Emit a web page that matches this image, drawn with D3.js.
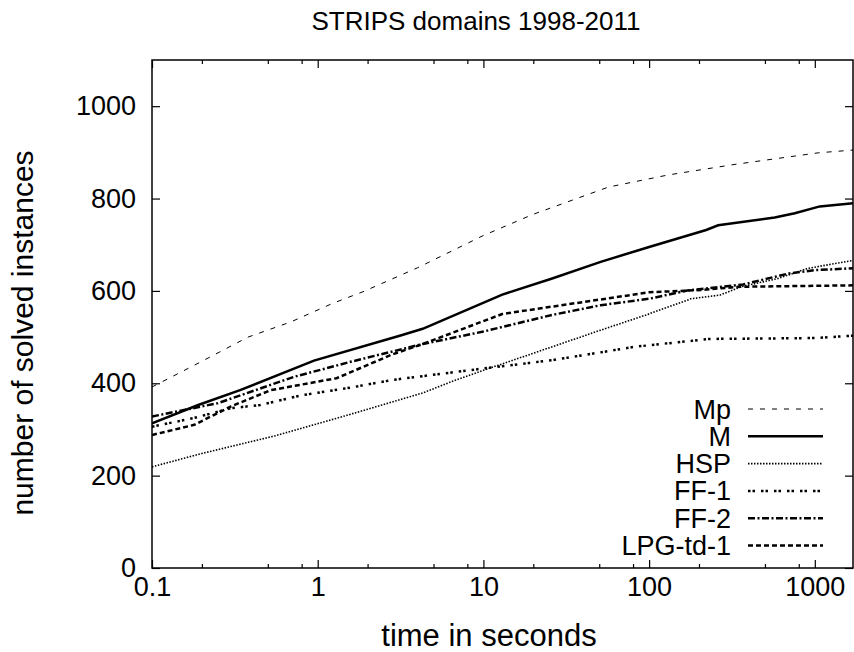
<!DOCTYPE html>
<html><head><meta charset="utf-8">
<script src="https://cdn.jsdelivr.net/npm/d3@7"></script>
<style>body{margin:0;background:#fff}text{font-family:"Liberation Sans",Arial,sans-serif;fill:#000}</style>
</head><body><svg id="c" width="854" height="652"></svg>
<script>
const seriesNames = ["Mp","M","HSP","FF-1","FF-2","LPG-td-1"];
const xTickValues = [0.1,1,10,100,1000];
const xTickLabels = ["0.1","1","10","100","1000"];
const yTickValues = [0,200,400,600,800,1000];

const mpTimes  = [0.1,0.18,0.38,0.69,1.23,1.87,4,10,20,57,130,330,690,1050,1700];
const mpValues = [392,439,500,533,573,598,650,720,766,825,851,874,890,899,905];

const mTimes  = [0.1,0.19,0.34,0.95,3.2,4.3,13,26,51,100,221,261,573,757,1072,1700];
const mValues = [313,353,385,449,504,518,592,627,663,695,732,742,759,768,783,790];

const hspTimes  = [0.1,0.2,0.55,1.45,4.3,6.8,10,26,51,96,179,268,360,600,912,1700];
const hspValues = [219,248,286,329,379,407,428,479,515,548,583,591,609,627,649,666];

const ff1Times  = [0.1,0.18,0.3,0.45,0.8,1.6,2.8,10,26,82,230,520,1000,1700];
const ff1Values = [306,325,346,353,374,391,407,432,450,479,496,497,498,503];

const ff2Times  = [0.1,0.25,0.72,1.6,4.3,10,26,51,100,170,370,700,1000,1700];
const ff2Values = [328,357,414,447,485,512,548,569,583,601,614,638,645,649];

const lpgTimes  = [0.1,0.18,0.3,0.52,1.3,2.8,4.3,13,26,100,207,350,1700];
const lpgValues = [288,310,350,385,411,462,485,550,566,597,602,609,612];

const allTimes = [mpTimes,mTimes,hspTimes,ff1Times,ff2Times,lpgTimes];
const allValues = [mpValues,mValues,hspValues,ff1Values,ff2Values,lpgValues];
const styles = [
  {w:1, dash:"5,7"},
  {w:2.5, dash:null},
  {w:1.6, dash:"1.5,1.5"},
  {w:2.5, dash:"2.5,2,2.5,6"},
  {w:2.5, dash:"7,2.5,2,2.5"},
  {w:2.5, dash:"5,3"}
];

const svg = d3.select("#c");
const L=152, R=853, T=60, B=568;
const x = d3.scaleLog().domain([0.1,1700]).range([L,R]);
const y = d3.scaleLinear().domain([0,1100]).range([B,T]);

const minor = [];
[0.1,1,10,100,1000].forEach(d=>[2,5,8].forEach(m=>{const v=d*m; if(v<=1700) minor.push(v);}));

const g = svg.append("g");
g.append("g").attr("transform",`translate(0,${B})`)
  .call(d3.axisBottom(x).tickValues(xTickValues).tickFormat((d,i)=>xTickLabels[i]).tickSizeInner(-8).tickSizeOuter(0).tickPadding(9))
  .call(a=>{a.select(".domain").remove(); a.selectAll("text").attr("font-size",27).attr("font-family","Liberation Sans");});
g.append("g").attr("transform",`translate(0,${B})`)
  .call(d3.axisBottom(x).tickValues(minor).tickFormat("").tickSizeInner(-4).tickSizeOuter(0))
  .call(a=>a.select(".domain").remove());
g.append("g").attr("transform",`translate(0,${T})`)
  .call(d3.axisTop(x).tickValues(xTickValues).tickFormat("").tickSizeInner(-8).tickSizeOuter(0))
  .call(a=>a.select(".domain").remove());
g.append("g").attr("transform",`translate(0,${T})`)
  .call(d3.axisTop(x).tickValues(minor).tickFormat("").tickSizeInner(-4).tickSizeOuter(0))
  .call(a=>a.select(".domain").remove());
g.append("g").attr("transform",`translate(${L},0)`)
  .call(d3.axisLeft(y).tickValues(yTickValues).tickFormat(d3.format("d")).tickSizeInner(-8).tickSizeOuter(0).tickPadding(16))
  .call(a=>{a.select(".domain").remove(); a.selectAll("text").attr("font-size",27).attr("font-family","Liberation Sans");});
g.append("g").attr("transform",`translate(${R},0)`)
  .call(d3.axisRight(y).tickValues(yTickValues).tickFormat("").tickSizeInner(-8).tickSizeOuter(0))
  .call(a=>a.select(".domain").remove());
g.selectAll(".tick line").attr("stroke","#000").attr("stroke-width",1.2);

svg.append("rect").attr("x",L).attr("y",T).attr("width",R-L).attr("height",B-T)
  .attr("fill","none").attr("stroke","#000").attr("stroke-width",1.5);

const line = d3.line().x(d=>x(d[0])).y(d=>y(d[1]));
svg.append("clipPath").attr("id","cp").append("rect").attr("x",L).attr("y",T).attr("width",R-L).attr("height",B-T);
seriesNames.forEach((n,i)=>{
  const pts = allTimes[i].map((t,j)=>[t,allValues[i][j]]);
  svg.append("path").datum(pts).attr("d",line).attr("fill","none").attr("stroke","#000")
    .attr("stroke-width",styles[i].w).attr("stroke-dasharray",styles[i].dash).attr("clip-path","url(#cp)");
});

seriesNames.forEach((n,i)=>{
  const ly = 409 + i*27.3;
  svg.append("text").attr("x",731).attr("y",ly+9.5).attr("text-anchor","end").attr("font-size",27).text(n);
  svg.append("line").attr("x1",748).attr("x2",823).attr("y1",ly).attr("y2",ly).attr("stroke","#000")
    .attr("stroke-width",styles[i].w).attr("stroke-dasharray",styles[i].dash);
});

svg.append("text").attr("x",476).attr("y",30).attr("text-anchor","middle").attr("font-size",26).text("STRIPS domains 1998-2011");
svg.append("text").attr("x",489).attr("y",646).attr("text-anchor","middle").attr("font-size",31).text("time in seconds");
svg.append("text").attr("transform","translate(33,333) rotate(-90)").attr("text-anchor","middle").attr("font-size",30).text("number of solved instances");
</script></body></html>
